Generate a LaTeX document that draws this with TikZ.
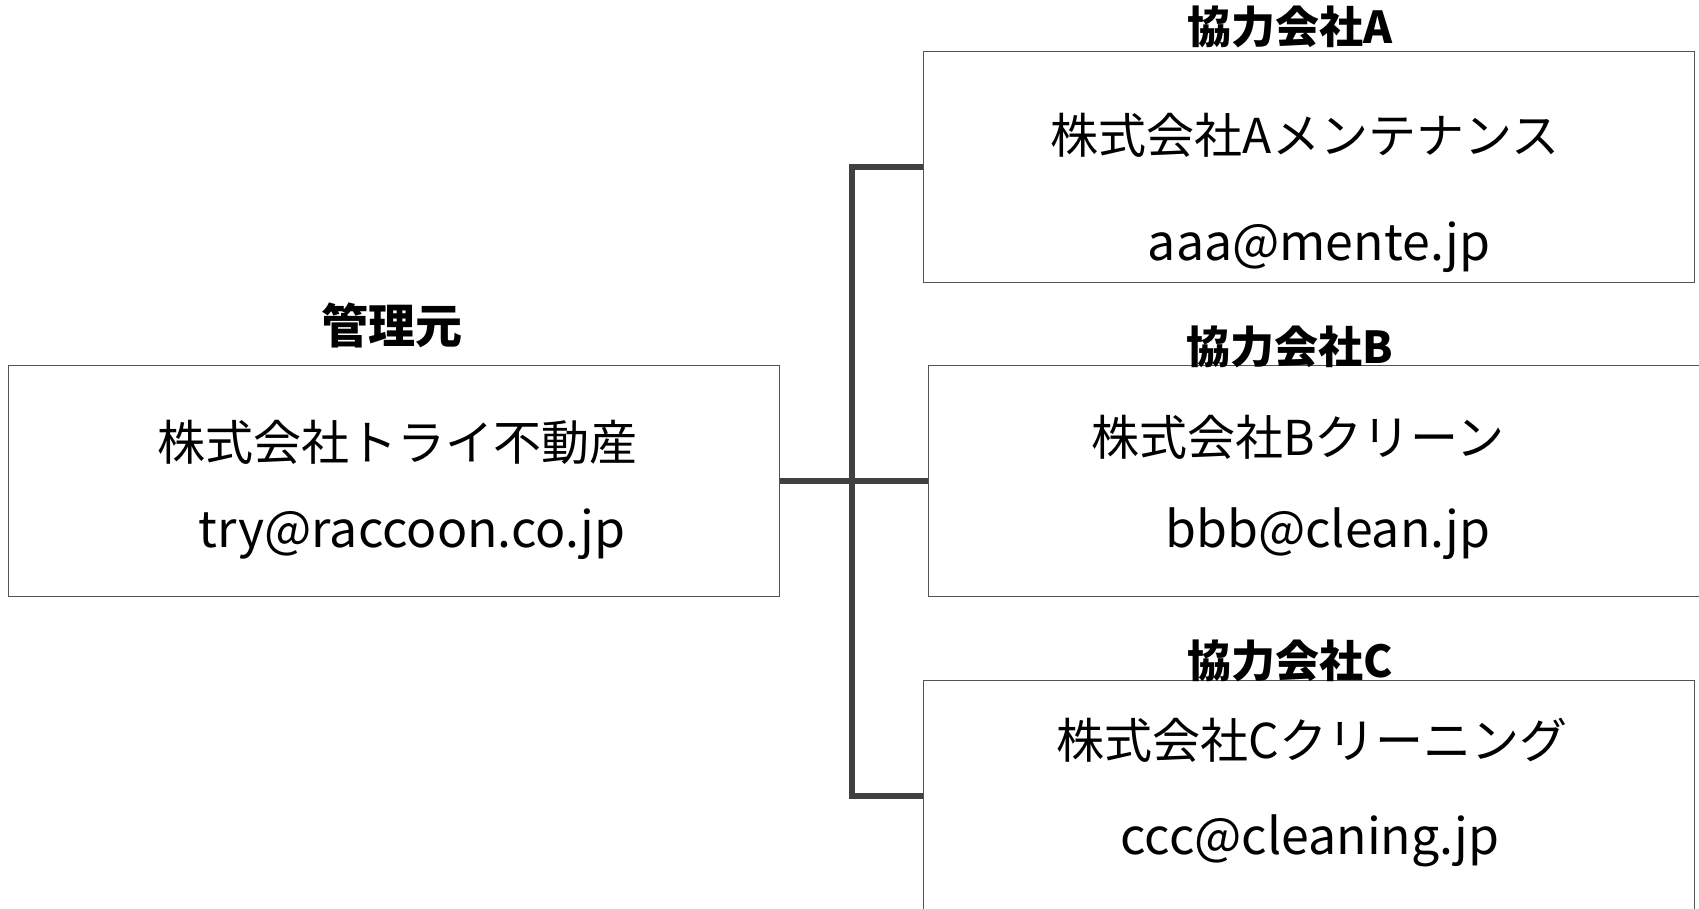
\documentclass[tikz,border=0pt]{standalone}
\usepackage{fontspec}
\setmainfont{Noto Sans CJK JP}
\usetikzlibrary{positioning}

\begin{document}
\begin{tikzpicture}[x=1pt,y=-1pt,
    box/.style={draw=black!68,line width=1.5pt,minimum width=771pt,minimum height=231pt,inner sep=0pt},
    heading/.style={font=\fontsize{44}{50}\selectfont\bfseries,inner sep=0pt},
    body/.style={font=\fontsize{48}{52}\selectfont,inner sep=0pt},
    mail/.style={font=\fontsize{50}{54}\selectfont,inner sep=0pt},
    link/.style={draw=black!75,line width=6.5pt}]
  \useasboundingbox (0,0) rectangle (1699,908);

  % boxes
  \node[box] (mgr) at (394,481) {};
  \node[box] (ca) at (1309,167) {};
  \node[box] (cb) at (1314,481) {};
  \node[box] (cc) at (1309,796) {};

  % headings
  \node[heading] (tmgr) at (392,325) {\fontsize{47}{50}\selectfont 管理元};
  \node[heading] (ta) at (1290,27) {協力会社A};
  \node[heading] (tb) at (1290,347) {協力会社B};
  \node[heading] (tc) at (1290,661) {協力会社C};

  % names and mail
  \node[body] (nmgr) at (397,442) {株式会社トライ不動産};
  \node[mail] (mmgr) at (412,534) {try@raccoon.co.jp};
  \node[body] (na) at (1305,135) {株式会社Aメンテナンス};
  \node[mail] (ma) at (1319,247) {aaa@mente.jp};
  \node[body] (nb) at (1298,437) {株式会社Bクリーン};
  \node[mail] (mb) at (1328,534) {bbb@clean.jp};
  \node[body] (nc) at (1312,740) {株式会社Cクリーニング};
  \node[mail] (mc) at (1310,841) {ccc@cleaning.jp};

  \coordinate (hub) at (852,481);
  \path[link] (mgr.east) -- (hub)
    (hub) |- (ca.west)
    (hub) -- (cb.west)
    (hub) |- (cc.west);
\end{tikzpicture}
\end{document}
